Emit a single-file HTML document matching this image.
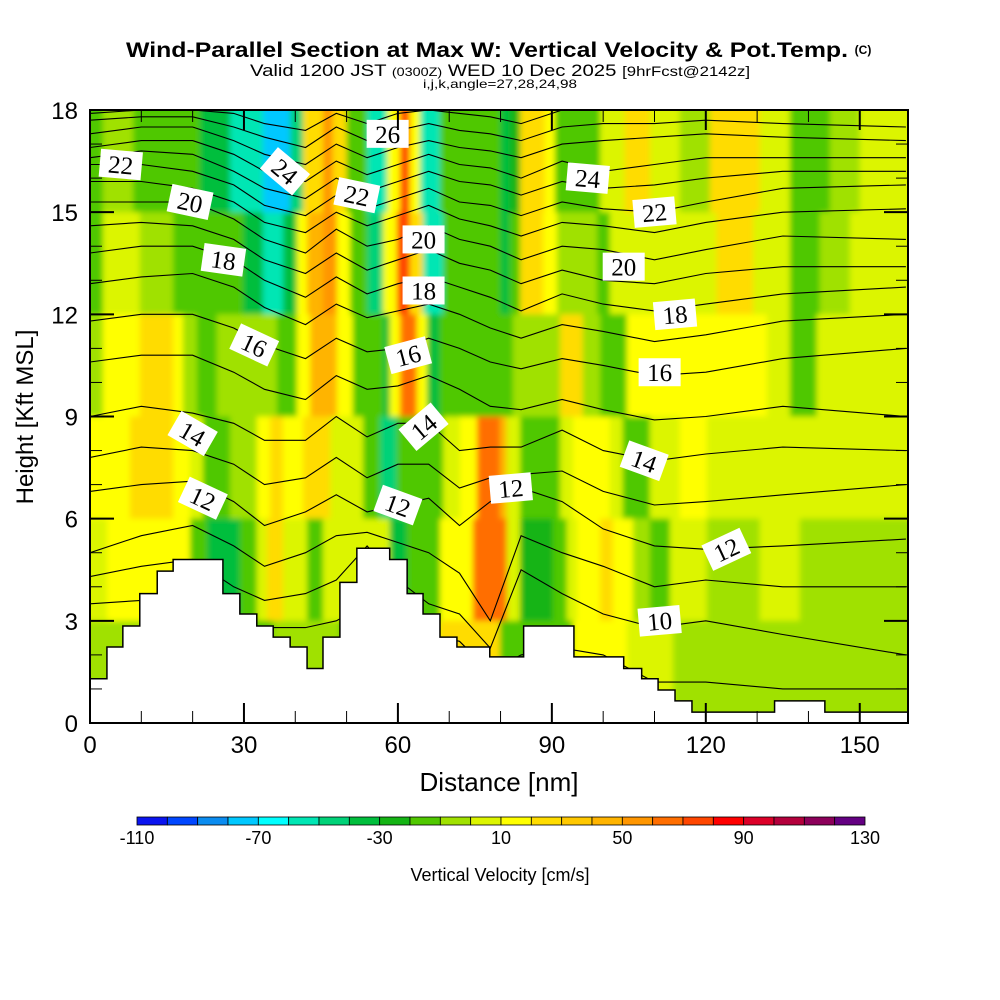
<!DOCTYPE html>
<html><head><meta charset="utf-8"><style>
html,body{margin:0;padding:0;background:#fff;}
svg{display:block;font-family:"Liberation Sans",sans-serif;}
</style></head><body>
<svg id="chart" width="1000" height="1000" viewBox="0 0 1000 1000" xmlns="http://www.w3.org/2000/svg">
<text x="126" y="57" textLength="722" lengthAdjust="spacingAndGlyphs" font-size="21" font-weight="bold">Wind-Parallel Section at Max W: Vertical Velocity &amp; Pot.Temp.</text>
<text x="863" y="54" text-anchor="middle" font-size="12" font-weight="bold">(C)</text>
<text x="250" y="76" textLength="500" lengthAdjust="spacingAndGlyphs" font-size="17">Valid 1200 JST <tspan font-size="12">(0300Z)</tspan> WED 10 Dec 2025 <tspan font-size="14">[9hrFcst@2142z]</tspan></text>
<text x="423" y="88" textLength="154" lengthAdjust="spacingAndGlyphs" font-size="12">i,j,k,angle=27,28,24,98</text>
<defs>
<clipPath id="pc"><rect x="90" y="110" width="818" height="613"/></clipPath>
<filter id="soft" x="-0.05" y="-0.05" width="1.1" height="1.1"><feGaussianBlur stdDeviation="3"/></filter>
</defs>
<g clip-path="url(#pc)"><g id="field" filter="url(#soft)"></g></g>
<g id="contours" clip-path="url(#pc)"></g>
<g id="terrain" clip-path="url(#pc)"></g>
<g id="labels"></g>
<rect x="90" y="110" width="818" height="613" fill="none" stroke="#000" stroke-width="2"/>
<g id="axes"></g>
<text x="499" y="791" text-anchor="middle" font-size="26">Distance [nm]</text>
<text transform="translate(33,417) rotate(-90)" text-anchor="middle" font-size="24">Height [Kft MSL]</text>
<g id="cbar"></g>
<text x="500" y="881" text-anchor="middle" font-size="18">Vertical Velocity [cm/s]</text>
</svg>
<script>
// colour scale
const levels = [-110,-100,-90,-80,-70,-60,-50,-40,-30,-20,-10,0,10,20,30,40,50,60,70,80,90,100,110,120,130];
const colors = ['#0a14f0','#0046ff','#0a8cf0','#00c8ff','#00ffff','#00e6b4','#00d278','#00be3c','#14b414','#50c800','#a0e100','#dcf500','#ffff00','#ffdc00','#ffc800','#ffb400','#ff9600','#ff6e00','#ff4600','#ff0000','#dc0028','#b4003c','#8c005a','#640082'];
const cbarTicks = [-110,-70,-30,10,50,90,130];
// velocity field: height bands (kft) with [distance nm, w cm/s] segments
const rowBottoms = [15,12,9,6,3,0];
const rowA = [[0,-15],[2.5,-5],[8.4,-15],[16.2,-20],[21.4,-35],[27.3,-55],[33.7,-75],[39,-45],[41.5,25],[45.4,50],[47.3,20],[50,-15],[54,-60],[57.9,15],[60.4,70],[62.3,15],[64.3,-55],[68.2,-20],[79.9,-35],[81.8,-25],[83.8,25],[88.6,15],[90.6,-15],[99.4,5],[104.2,20],[109.1,5],[114.9,-5],[120.8,25],[130.5,5],[136.4,-20],[144.2,-5],[150,5]];
const rowB = [[0,-15],[2.5,5],[9.7,-5],[16.2,-15],[21.4,-20],[29.8,-35],[33.7,-60],[37.6,-35],[40.3,15],[42.3,40],[45.4,55],[48.1,15],[50.7,-20],[54,-50],[57.1,15],[59.8,75],[62.3,25],[64.9,-55],[68.8,-20],[79.9,-35],[81.8,-20],[83.8,25],[88.3,15],[91,-10],[98.8,-20],[101.3,5],[122.1,20],[129.2,5],[136.4,-20],[142.2,-5],[148.1,5]];
const rowC = [[0,-5],[2.5,15],[9.7,25],[16.2,15],[18.1,-5],[20.8,-20],[24.7,-5],[27.3,-10],[36.4,-20],[40.3,15],[42.9,40],[48.1,15],[51.2,-20],[57.1,-35],[58.4,15],[60.4,60],[63.7,15],[65.7,-40],[68.2,-15],[79.9,-15],[82.4,-10],[91.6,25],[96,-5],[99.4,-15],[104.6,15],[131.9,5],[136.4,-15],[141.6,5]];
const rowD = [[0,15],[7.8,25],[16.2,15],[19.5,5],[22,-20],[27.3,-5],[32.5,15],[35.1,25],[37.6,15],[41.5,20],[46.8,5],[53.2,-15],[56.5,-45],[59.8,-20],[68.8,5],[72.1,15],[75.4,60],[79.9,40],[81.2,5],[83.8,-20],[91.6,5],[94.1,15],[101.3,5],[103.8,-20],[109.1,5],[114.9,15],[120.2,5]];
const rowE = [[0,5],[3.3,15],[19.5,-20],[22.8,-35],[29.2,-20],[32.5,5],[34.5,25],[37.6,5],[42.3,-15],[45.4,5],[58.4,-40],[61.8,-20],[68.2,15],[74.6,60],[81.2,5],[83.8,-30],[90.2,-20],[92.9,5],[94.9,15],[99.4,25],[101.9,15],[105.8,-10],[109.1,-20],[113,5],[120.2,-5],[130.5,5],[138.3,-5]];
const rowF = [[0,-5],[29.2,-20],[35.7,-10],[48.7,-20],[61.8,5],[68.2,25],[79.9,-15],[94.1,15],[104.6,5],[113.6,-5]];
// terrain steps
const terrainStart = [0,3.3,6.4,9.7,13.1,16.2,25.9,29.2,32.5,35.7,39,42.3,45.4,48.7,52,58.4,61.8,64.9,68.2,71.5,77.9,84.5,94.3,104,107.5,110.7,114,117.3,133.4,143.2];
const terrainH = [1.3,2.23,2.85,3.8,4.46,4.8,3.8,3.2,2.85,2.52,2.23,1.6,2.52,4.13,5.13,4.8,3.8,3.2,2.52,2.23,1.94,2.85,1.94,1.6,1.3,0.97,0.65,0.32,0.65,0.32];
// potential temperature contours: heights (kft) at sample distances
const contourX = [0,10,20,28,34,42,48,54,60,66,72,78,84,92,100,110,120,135,159];
const theta27 = [17.9,18.0,18.0,17.9,17.6,17.4,17.9,17.6,17.9,18.0,17.9,17.8,17.6,18.0,18.0,18.0,18.0,18.0,18.0];
const theta26 = [17.7,17.8,17.8,17.5,17.2,16.9,17.5,17.1,17.4,17.6,17.4,17.3,17.1,17.5,17.6,17.6,17.7,17.6,17.5];
const theta25 = [17.3,17.5,17.5,17.1,16.7,16.4,17.0,16.6,16.9,17.1,16.9,16.8,16.6,17.0,17.1,17.2,17.3,17.2,17.1];
const theta24 = [16.9,17.1,17.1,16.7,16.2,15.9,16.5,16.1,16.4,16.7,16.4,16.3,16.0,16.5,16.2,16.4,16.6,16.6,16.6];
const theta23 = [16.6,16.8,16.7,16.2,15.7,15.4,16.0,15.6,15.9,16.2,15.9,15.8,15.5,15.9,15.7,15.8,16.0,16.2,16.2];
const theta22 = [16.4,16.4,16.2,15.8,15.2,14.9,15.5,15.1,15.4,15.7,15.3,15.2,14.9,15.3,15.1,15.0,15.3,15.7,15.8];
const theta21 = [15.9,15.9,15.7,15.3,14.7,14.4,15.0,14.6,14.9,15.2,14.8,14.6,14.3,14.7,14.6,14.4,14.7,15.0,15.1];
const theta20 = [15.3,15.3,15.3,14.8,14.2,13.8,14.5,14.0,14.2,14.6,14.2,14.0,13.6,14.0,13.9,13.6,13.9,14.3,14.2];
const theta19 = [14.6,14.7,14.6,14.2,13.6,13.2,13.8,13.3,13.6,13.9,13.5,13.3,12.9,13.3,13.0,12.9,13.2,13.4,13.4];
const theta18 = [13.8,14.0,14.0,13.6,13.0,12.5,13.1,12.6,12.9,13.1,12.8,12.5,12.1,12.6,12.3,12.1,12.3,12.6,12.8];
const theta17 = [12.9,13.1,13.2,12.8,12.2,11.7,12.3,11.9,12.1,12.3,12.0,11.6,11.3,11.7,11.5,11.2,11.4,11.8,12.0];
const theta16 = [11.8,12.0,12.0,11.6,11.1,10.7,11.3,10.9,11.0,11.3,11.0,10.6,10.4,10.7,10.5,10.2,10.3,10.7,11.0];
const theta15 = [10.6,10.8,10.8,10.3,9.8,9.5,10.2,9.8,9.9,10.2,9.8,9.3,9.2,9.5,9.2,8.9,9.0,9.3,9.0];
const theta14 = [9.0,9.3,9.1,8.8,8.3,8.3,9.0,8.4,8.8,8.8,8.0,8.1,8.1,8.6,8.0,7.7,7.9,8.1,8.0];
const theta13 = [7.8,8.1,8.0,7.6,7.0,7.2,7.8,7.2,7.6,7.6,6.9,7.2,7.3,7.4,6.8,6.4,6.5,6.7,7.0];
const theta12 = [6.8,7.0,7.1,6.5,5.8,6.2,6.7,6.2,6.4,6.6,5.8,6.5,6.9,6.5,5.7,5.2,5.1,5.2,5.4];
const theta11 = [5.0,5.5,5.8,5.2,4.6,5.0,5.5,5.6,5.3,5.0,4.4,3.0,5.5,5.0,4.6,4.0,4.2,4.0,4.0];
const theta10 = [4.3,4.6,4.8,4.0,3.6,3.8,4.2,5.2,4.2,3.5,3.2,2.2,4.5,3.8,3.2,2.8,3.0,2.6,2.0];
const theta9 = [3.5,3.6,3.6,3.0,2.8,2.8,3.0,3.5,3.2,2.6,2.4,1.5,2.0,2.2,2.0,1.2,1.2,1.0,1.0];
const labelText = ['22','20','18','16','14','12','24','22','26','20','18','16','14','12','12','24','22','20','18','16','14','12','10'];
const labelX = [6,19.5,26,32,20,22,38,52,58,65,65,62,65,60,82,97,110,104,114,111,108,124,111];
const labelH = [16.4,15.3,13.6,11.1,8.5,6.6,16.2,15.5,17.3,14.2,12.7,10.8,8.7,6.4,6.9,16.0,15.0,13.4,12.0,10.3,7.7,5.1,3.0];
const labelRot = [5,12,8,25,30,25,40,12,0,0,0,-15,-40,20,-5,5,-5,0,-5,0,20,-25,-5];
const xTicks = [0,30,60,90,120,150];
const yTicks = [0,3,6,9,12,15,18];

const NS='http://www.w3.org/2000/svg';
const X0=90,X1=908,Y0=723,Y1=110,XMAX=159.4,YMAX=18;
const sx=d=>X0+d*(X1-X0)/XMAX;
const sy=h=>Y0-h*(Y0-Y1)/YMAX;
function mk(tag,attrs,parent){const e=document.createElementNS(NS,tag);for(const k in attrs)e.setAttribute(k,attrs[k]);parent.appendChild(e);return e;}
function colorFor(w){for(let i=0;i<colors.length;i++){if(w<levels[i+1])return colors[i];}return colors[colors.length-1];}

const field=document.getElementById('field');
const rows=[rowA,rowB,rowC,rowD,rowE,rowF];
rows.forEach((row,ri)=>{
  const hb=rowBottoms[ri],ht=hb+3;
  const top=ri===0?ht+1:ht, bot=ri===rows.length-1?hb-1:hb;
  row.forEach((seg,si)=>{
    const xs=si===0?seg[0]-2:seg[0];
    const xe=si+1<row.length?row[si+1][0]:XMAX+2;
    const r=mk('rect',{x:sx(xs),y:sy(top),width:sx(xe)-sx(xs)+0.6,height:sy(bot)-sy(top)+0.6,fill:colorFor(seg[1])},field);
    
    
  });
});

const cg=document.getElementById('contours');
const thetas=[theta27,theta26,theta25,theta24,theta23,theta22,theta21,theta20,theta19,theta18,theta17,theta16,theta15,theta14,theta13,theta12,theta11,theta10,theta9];
thetas.forEach(arr=>{
  const pts=arr.map((h,i)=>sx(contourX[i]).toFixed(1)+','+sy(h).toFixed(1)).join(' ');
  const p=mk('polyline',{points:pts,fill:'none',stroke:'#000','stroke-width':1.1},cg);
  
  
});

const tg=document.getElementById('terrain');
let d='M'+sx(0)+','+sy(0);
terrainStart.forEach((s,i)=>{const e=i+1<terrainStart.length?terrainStart[i+1]:XMAX;d+=' L'+sx(s)+','+sy(terrainH[i])+' L'+sx(e)+','+sy(terrainH[i]);});
d+=' L'+sx(XMAX)+','+sy(0)+' Z';
const tp=mk('path',{d:d,fill:'#fff',stroke:'#000','stroke-width':1.5},tg);



const lg=document.getElementById('labels');
labelText.forEach((t,i)=>{
  const g=mk('g',{transform:'translate('+sx(labelX[i])+','+sy(labelH[i])+') rotate('+labelRot[i]+')'},lg);
  
  
  mk('rect',{x:-21,y:-14,width:42,height:28,fill:'#fff'},g);
  const tx=mk('text',{x:0,y:9,'text-anchor':'middle','font-size':25,'font-family':'Liberation Serif, serif'},g);
  tx.textContent=t;
});

const ax=document.getElementById('axes');
for(let v=0;v<=150;v+=10){
  const major=v%30===0;const L=major?20:12;
  mk('line',{x1:sx(v),x2:sx(v),y1:Y0,y2:Y0-L,stroke:'#000','stroke-width':major?2:1},ax);
  mk('line',{x1:sx(v),x2:sx(v),y1:Y1,y2:Y1+L,stroke:'#000','stroke-width':major?2:1},ax);
}
xTicks.forEach(v=>{const t=mk('text',{x:sx(v),y:753,'text-anchor':'middle','font-size':24},ax);t.textContent=v;});
for(let v=0;v<=18;v+=1){
  const major=v%3===0;const L=major?24:12;
  mk('line',{x1:X0,x2:X0+L,y1:sy(v),y2:sy(v),stroke:'#000','stroke-width':major?2:1},ax);
  mk('line',{x1:X1,x2:X1-L,y1:sy(v),y2:sy(v),stroke:'#000','stroke-width':major?2:1},ax);
}
yTicks.forEach(v=>{const t=mk('text',{x:78,y:sy(v)+9,'text-anchor':'end','font-size':24},ax);t.textContent=v;});

const cb=document.getElementById('cbar');
const cbx0=137,cbx1=865,cw=(cbx1-cbx0)/colors.length;
colors.forEach((c,i)=>{const r=mk('rect',{x:cbx0+i*cw,y:817,width:cw,height:8,fill:c,stroke:'#000','stroke-width':0.8},cb);});
cbarTicks.forEach(v=>{const i=levels.indexOf(v);const t=mk('text',{x:cbx0+i*cw,y:844,'text-anchor':'middle','font-size':18},cb);t.textContent=v;});
</script>
</body></html>
